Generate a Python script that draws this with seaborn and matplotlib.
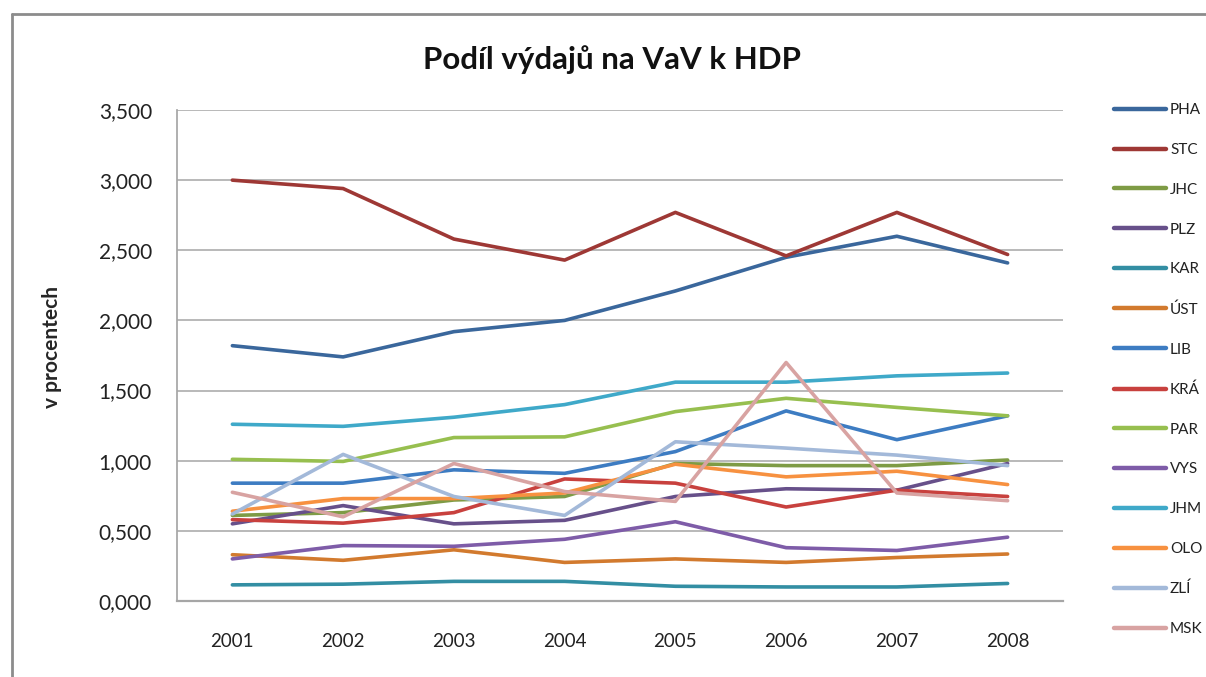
import matplotlib
matplotlib.use("Agg")
import matplotlib.pyplot as plt
from matplotlib.lines import Line2D
from matplotlib.ticker import FuncFormatter
import numpy as np
import pandas as pd
import seaborn as sns

years = ["2001", "2002", "2003", "2004", "2005", "2006", "2007", "2008"]
regions = ["PHA", "STC", "JHC", "PLZ", "KAR", "ÚST", "LIB", "KRÁ",
           "PAR", "VYS", "JHM", "OLO", "ZLÍ", "MSK"]

pha = [1.82, 1.74, 1.92, 2.00, 2.21, 2.45, 2.60, 2.41]
stc = [3.00, 2.94, 2.58, 2.43, 2.77, 2.46, 2.77, 2.47]
jhc = [0.61, 0.63, 0.72, 0.745, 0.98, 0.965, 0.965, 1.005]
plz = [0.55, 0.68, 0.55, 0.575, 0.745, 0.80, 0.79, 0.98]
kar = [0.115, 0.12, 0.14, 0.14, 0.105, 0.10, 0.10, 0.125]
ust = [0.33, 0.29, 0.365, 0.275, 0.30, 0.275, 0.31, 0.335]
lib = [0.84, 0.84, 0.935, 0.91, 1.065, 1.355, 1.15, 1.32]
kra = [0.58, 0.555, 0.63, 0.87, 0.84, 0.67, 0.79, 0.745]
par = [1.01, 0.995, 1.165, 1.17, 1.35, 1.445, 1.38, 1.32]
vys = [0.30, 0.395, 0.39, 0.44, 0.565, 0.38, 0.36, 0.455]
jhm = [1.26, 1.245, 1.31, 1.40, 1.56, 1.56, 1.605, 1.625]
olo = [0.64, 0.73, 0.73, 0.77, 0.975, 0.885, 0.925, 0.83]
zli = [0.62, 1.045, 0.745, 0.61, 1.135, 1.09, 1.04, 0.965]
msk = [0.775, 0.60, 0.98, 0.78, 0.71, 1.70, 0.77, 0.715]

series = [pha, stc, jhc, plz, kar, ust, lib, kra, par, vys, jhm, olo, zli, msk]

colors = ["#3A679C", "#9E3835", "#7E9B45", "#67508A", "#338EA3", "#D27A2E",
          "#3D7CC2", "#C8413E", "#97BF4F", "#7E5CA8", "#3FA9C9", "#F79140",
          "#A3B9D9", "#D8A3A2"]

rows = []
for name, vals in zip(regions, series):
    for i, (yr, v) in enumerate(zip(years, vals)):
        rows.append({"idx": i, "rok": yr, "kraj": name, "hodnota": v})
df = pd.DataFrame(rows)

sns.set_theme(style="white")
plt.rcParams["font.family"] = ["Lato", "DejaVu Sans"]

fig = plt.figure(figsize=(12.06, 6.77), dpi=100)
ax = fig.add_axes([177 / 1206, 1 - 601 / 677, (1063 - 177) / 1206, (601 - 110) / 677])

sns.lineplot(data=df, x="idx", y="hodnota", hue="kraj", hue_order=regions,
             palette=dict(zip(regions, colors)), linewidth=2.6, ax=ax,
             legend=False, sort=False)

ax.set_xlim(-0.5, 7.5)
ax.set_ylim(0, 3.5)
ax.set_xticks(range(len(years)))
ax.set_xticklabels(years)
ax.set_yticks(np.arange(0, 3.51, 0.5))
ax.yaxis.set_major_formatter(FuncFormatter(lambda v, p: f"{v:.3f}".replace(".", ",")))
ax.tick_params(axis="both", colors="#222222", length=0)
ax.tick_params(axis="x", labelsize=13.5, pad=23)
ax.tick_params(axis="y", labelsize=15, pad=18)
ax.grid(axis="y", color="#A6A6A6", linewidth=1.1)
ax.set_axisbelow(True)
for side in ["top", "right"]:
    ax.spines[side].set_visible(False)
ax.spines["left"].set_color("#A6A6A6")
ax.spines["bottom"].set_color("#A6A6A6")
ax.spines["bottom"].set_linewidth(1.6)
ax.set_xlabel("")
ax.set_ylabel("v procentech", fontsize=15, fontweight="bold")
ax.yaxis.set_label_coords((62 - 177) / 886, (601 - 347) / 491)

fig.text(612 / 1206, 1 - 60 / 677, "Podíl výdajů na VaV k HDP", ha="center", va="center",
         fontsize=22.5, fontweight="bold", color="#111111")

handles = [Line2D([0], [0], color=c, linewidth=3.2) for c in colors]
leg = fig.legend(handles, regions, loc="upper left",
                 bbox_to_anchor=(1108 / 1206, 1 - 97 / 677), frameon=False,
                 fontsize=11, handlelength=3.4, handletextpad=0.26,
                 labelspacing=1.69, borderaxespad=0)
for t in leg.get_texts():
    t.set_color("#222222")

# outer chart border
fig.add_artist(Line2D([12 / 1206, 12 / 1206], [0, 1 - 14 / 677],
                      transform=fig.transFigure, color="#8C8C8C", linewidth=2))
fig.add_artist(Line2D([12 / 1206, 1], [1 - 14 / 677, 1 - 14 / 677],
                      transform=fig.transFigure, color="#8C8C8C", linewidth=2))

fig.savefig("out.png", dpi=100, facecolor="white")
